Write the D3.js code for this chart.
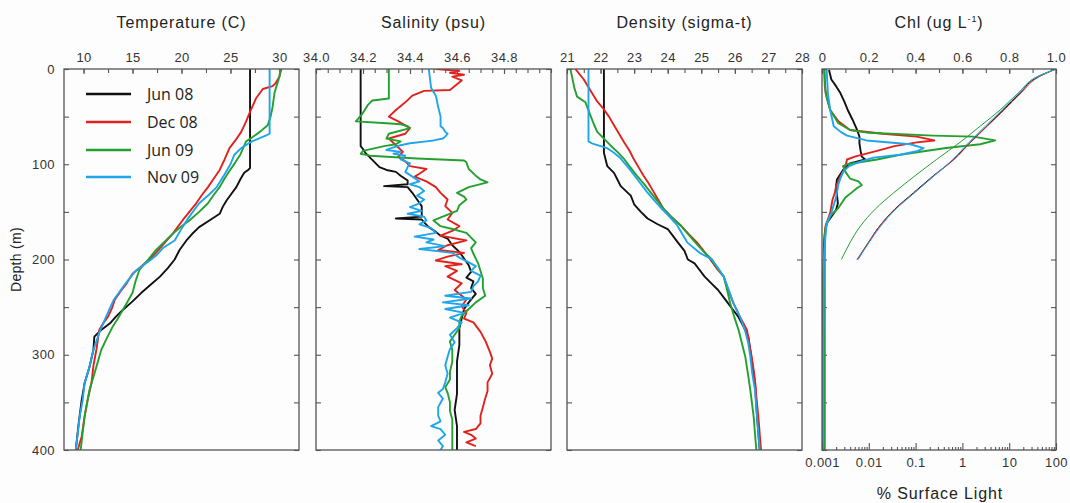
<!DOCTYPE html>
<html>
<head>
<meta charset="utf-8">
<title>CTD profiles</title>
<script src="https://cdn.jsdelivr.net/npm/d3@7"></script>
<style>
  body { margin: 0; background: #fdfdfd; }
  svg { font-family: "Liberation Sans", Arial, sans-serif; }
  .axis text { font-size: 13px; letter-spacing: 0.4px; fill: #333; }
  .axis line { stroke: #555; stroke-width: 1.1; }
  .axis path { display: none; }
  .frame { fill: none; stroke: #555; stroke-width: 1.3; }
  .title { font-size: 16px; letter-spacing: 0.9px; fill: #222; text-anchor: middle; }
</style>
</head>
<body>
<script>
// series names and colours
var seriesNames = ["Jun 08", "Dec 08", "Jun 09", "Nov 09"];
var seriesColors = ["#111111", "#e0221e", "#23a030", "#1fa5ea"];

// temperature (C) : [depth m, value]
var tempJun08 = [[0,27.0],[104,27.0],[106,26.8],[109,26.4],[116,26.0],[124,25.6],[131,25.1],[138,24.6],[145,24.2],[152,23.9],[158,23.0],[166,21.8],[173,21.1],[180,20.5],[190,19.8],[200,19.3],[209,18.6],[218,17.8],[226,16.9],[235,15.9],[244,15.0],[253,14.0],[260,13.3],[267,12.7],[274,11.8],[281,11.1],[295,11.0],[313,10.6],[330,10.1],[348,9.8],[372,9.5],[400,9.2]];
var tempDec08 = [[0,30.2],[8,30.0],[15,29.6],[18,29.3],[21,28.3],[31,27.6],[45,27.0],[55,26.6],[66,26.1],[75,25.5],[83,24.9],[95,24.4],[106,23.9],[115,23.3],[124,22.7],[132,22.1],[141,21.5],[150,20.8],[159,20.1],[166,19.6],[173,19.1],[180,18.5],[187,17.9],[194,17.3],[200,16.7],[208,15.8],[215,15.0],[225,14.4],[233,13.8],[242,13.2],[251,12.9],[260,12.5],[267,12.0],[274,11.6],[295,11.3],[312,11.0],[330,10.8],[348,10.4],[365,10.1],[386,9.8],[400,9.4]];
var tempJun09 = [[0,30.1],[8,30.0],[25,29.5],[40,29.3],[50,29.1],[59,28.8],[66,28.0],[72,27.2],[76,26.6],[90,26.0],[98,25.5],[107,24.9],[115,24.4],[124,23.9],[132,23.3],[141,22.7],[150,21.8],[159,20.8],[166,19.9],[173,19.1],[182,18.2],[190,17.4],[200,16.6],[211,15.7],[223,15.3],[235,15.0],[244,14.5],[253,14.0],[262,13.5],[270,13.0],[282,12.4],[295,11.8],[313,11.3],[337,10.6],[365,10.1],[400,9.7]];
var tempNov09 = [[0,29.0],[68,29.0],[70,28.6],[76,27.2],[83,26.1],[90,25.4],[100,25.0],[109,24.5],[124,23.6],[132,22.8],[141,21.8],[155,20.8],[166,20.1],[180,19.3],[188,18.1],[195,17.5],[200,16.9],[212,15.3],[225,14.3],[242,13.1],[260,12.3],[277,11.6],[295,11.0],[313,10.6],[330,10.1],[348,9.9],[365,9.6],[383,9.4],[400,9.2]];

// salinity (psu)
var salJun08 = [[0,34.19],[81,34.19],[84,34.20],[88,34.21],[93,34.23],[98,34.25],[103,34.27],[106,34.30],[108,34.34],[112,34.36],[117,34.39],[121,34.39],[123,34.29],[124,34.39],[130,34.41],[137,34.43],[144,34.45],[150,34.45],[155,34.45],[157,34.34],[158,34.45],[161,34.46],[166,34.48],[171,34.51],[175,34.53],[178,34.56],[185,34.58],[192,34.61],[199,34.63],[206,34.65],[213,34.66],[219,34.64],[223,34.67],[230,34.66],[236,34.68],[239,34.67],[245,34.65],[252,34.63],[262,34.62],[272,34.61],[290,34.61],[307,34.60],[325,34.60],[341,34.60],[358,34.59],[375,34.60],[390,34.60],[400,34.60]];
var salDec08 = [[0,34.51],[2,34.61],[4,34.57],[6,34.63],[8,34.58],[12,34.62],[16,34.60],[22,34.57],[23,34.46],[28,34.41],[35,34.38],[43,34.34],[50,34.31],[55,34.35],[62,34.40],[68,34.38],[73,34.31],[80,34.34],[87,34.37],[92,34.35],[97,34.38],[102,34.40],[105,34.47],[110,34.44],[113,34.42],[118,34.47],[124,34.51],[130,34.53],[137,34.56],[144,34.55],[151,34.58],[158,34.56],[165,34.61],[170,34.58],[175,34.53],[180,34.64],[185,34.56],[190,34.52],[193,34.63],[197,34.56],[201,34.51],[205,34.62],[207,34.55],[212,34.60],[218,34.56],[225,34.62],[232,34.59],[242,34.64],[249,34.62],[256,34.64],[262,34.63],[266,34.67],[276,34.70],[285,34.72],[297,34.74],[304,34.75],[311,34.74],[320,34.75],[329,34.73],[338,34.73],[346,34.72],[355,34.71],[364,34.70],[372,34.70],[378,34.68],[381,34.63],[384,34.66],[388,34.68],[392,34.64],[396,34.68]];
var salJun09 = [[0,34.31],[31,34.31],[33,34.24],[38,34.22],[46,34.20],[52,34.18],[55,34.17],[57,34.30],[58,34.36],[60,34.39],[62,34.40],[68,34.31],[73,34.30],[76,34.36],[79,34.34],[81,34.29],[86,34.20],[89,34.19],[91,34.23],[94,34.43],[96,34.63],[98,34.64],[105,34.65],[112,34.68],[116,34.70],[119,34.73],[124,34.65],[130,34.60],[134,34.63],[137,34.64],[143,34.61],[149,34.60],[154,34.55],[159,34.50],[165,34.53],[168,34.58],[172,34.64],[177,34.66],[182,34.68],[188,34.66],[194,34.67],[199,34.68],[204,34.69],[212,34.70],[220,34.71],[230,34.71],[238,34.72],[245,34.68],[252,34.65],[259,34.62],[265,34.61],[272,34.61],[279,34.59],[286,34.57],[295,34.58],[307,34.58],[318,34.57],[326,34.57],[334,34.55],[340,34.56],[350,34.57],[359,34.57],[368,34.58],[376,34.58],[388,34.58],[400,34.58]];
var salNov09 = [[0,34.48],[20,34.49],[28,34.51],[40,34.52],[50,34.53],[60,34.53],[62,34.54],[66,34.55],[68,34.56],[71,34.55],[73,34.54],[75,34.50],[76,34.47],[78,34.40],[80,34.36],[83,34.32],[85,34.30],[87,34.36],[89,34.33],[91,34.38],[95,34.36],[99,34.40],[103,34.39],[108,34.38],[113,34.41],[118,34.44],[121,34.40],[124,34.44],[128,34.46],[133,34.43],[137,34.46],[141,34.44],[145,34.40],[149,34.45],[152,34.39],[155,34.46],[159,34.47],[163,34.44],[167,34.49],[172,34.51],[176,34.42],[179,34.50],[182,34.47],[186,34.55],[189,34.44],[193,34.58],[198,34.61],[203,34.65],[207,34.68],[212,34.66],[217,34.70],[223,34.69],[228,34.67],[234,34.66],[238,34.55],[241,34.66],[245,34.54],[248,34.65],[252,34.55],[256,34.63],[261,34.57],[266,34.62],[272,34.60],[279,34.57],[287,34.59],[294,34.57],[302,34.56],[311,34.55],[320,34.56],[329,34.55],[336,34.54],[340,34.52],[346,34.54],[355,34.52],[364,34.52],[370,34.53],[375,34.49],[378,34.53],[384,34.55],[390,34.52],[396,34.54],[400,34.53]];

// density (sigma-t)
var denJun08 = [[0,22.1],[88,22.1],[95,22.15],[102,22.2],[109,22.4],[116,22.5],[123,22.6],[133,22.9],[142,23.0],[150,23.2],[157,23.4],[163,23.7],[168,24.0],[175,24.15],[182,24.3],[191,24.5],[200,24.6],[204,24.8],[211,24.95],[218,25.1],[225,25.3],[232,25.5],[239,25.65],[246,25.8],[253,25.95],[260,26.1],[270,26.25],[281,26.4],[293,26.45],[305,26.5],[330,26.6],[365,26.66],[400,26.74]];
var denDec08 = [[0,21.25],[11,21.5],[25,21.74],[34,21.9],[42,22.09],[50,22.25],[59,22.4],[68,22.55],[77,22.7],[85,22.85],[94,22.98],[103,23.13],[112,23.28],[120,23.43],[129,23.58],[138,23.73],[147,23.88],[155,24.1],[164,24.38],[173,24.62],[182,24.87],[191,25.07],[200,25.27],[209,25.45],[218,25.67],[232,25.8],[246,25.96],[260,26.15],[274,26.36],[288,26.43],[302,26.5],[316,26.56],[330,26.61],[348,26.65],[365,26.7],[383,26.74],[400,26.78]];
var denJun09 = [[0,21.1],[8,21.15],[20,21.22],[29,21.3],[35,21.55],[49,21.7],[58,21.8],[66,21.9],[73,22.1],[80,22.29],[87,22.5],[94,22.69],[103,22.88],[112,23.08],[120,23.28],[129,23.48],[138,23.68],[147,23.88],[155,24.1],[164,24.38],[173,24.6],[182,24.82],[191,25.05],[200,25.32],[204,25.37],[211,25.52],[218,25.67],[232,25.77],[246,25.86],[260,25.98],[274,26.11],[288,26.21],[302,26.31],[320,26.39],[337,26.46],[365,26.56],[383,26.6],[400,26.64]];
var denNov09 = [[0,21.64],[76,21.64],[78,21.74],[83,22.19],[88,22.4],[94,22.6],[104,22.84],[116,23.1],[129,23.38],[138,23.6],[147,23.83],[155,24.05],[164,24.28],[173,24.43],[182,24.58],[193,24.95],[200,25.32],[209,25.5],[218,25.67],[232,25.82],[246,25.96],[260,26.15],[274,26.3],[288,26.4],[302,26.46],[320,26.52],[337,26.6],[365,26.66],[383,26.7],[400,26.74]];

// chlorophyll (ug/L)
var chlJun08 = [[1,0.03],[11,0.04],[18,0.06],[25,0.078],[34,0.095],[43,0.11],[53,0.13],[64,0.15],[71,0.16],[78,0.16],[86,0.165],[92,0.17],[95,0.185],[99,0.12],[106,0.09],[116,0.064],[123,0.06],[130,0.063],[137,0.066],[141,0.068],[148,0.06],[155,0.04],[162,0.02],[172,0.012],[186,0.008],[220,0.005],[300,0.004],[400,0.004]];
var chlDec08 = [[1,0.01],[18,0.012],[30,0.02],[43,0.035],[55,0.07],[64,0.12],[68,0.26],[71,0.405],[75,0.48],[77,0.405],[81,0.31],[86,0.235],[92,0.14],[95,0.107],[102,0.1],[108,0.09],[113,0.078],[118,0.07],[123,0.06],[130,0.055],[137,0.045],[144,0.04],[151,0.035],[158,0.025],[165,0.015],[181,0.01],[200,0.008],[300,0.005],[400,0.005]];
var chlJun09 = [[1,0.01],[25,0.015],[43,0.035],[57,0.07],[64,0.12],[67,0.2],[70,0.476],[71,0.647],[75,0.74],[79,0.676],[83,0.53],[90,0.334],[95,0.235],[100,0.107],[102,0.09],[108,0.1],[115,0.12],[118,0.156],[122,0.17],[125,0.15],[129,0.13],[135,0.10],[146,0.07],[153,0.04],[160,0.025],[167,0.015],[180,0.012],[250,0.012],[400,0.012]];
var chlNov09 = [[1,0.02],[25,0.025],[43,0.035],[60,0.05],[66,0.08],[70,0.107],[75,0.19],[79,0.377],[83,0.434],[86,0.41],[90,0.334],[93,0.22],[97,0.167],[102,0.115],[108,0.09],[114,0.08],[121,0.07],[135,0.06],[151,0.04],[162,0.02],[175,0.015],[200,0.008],[300,0.005],[400,0.005]];

// % surface light
var lightJun08 = [[0,100],[8,42],[25,17],[43,7.5],[60,3.3],[77,1.46],[95,0.65],[112,0.24],[130,0.09],[147,0.036],[165,0.017],[182,0.0099],[200,0.0058]];
var lightDec08 = [[0,100],[8,44],[25,18],[43,7.8],[60,3.4],[77,1.5],[95,0.66],[112,0.25],[130,0.094],[147,0.037],[165,0.017],[182,0.0098],[200,0.0056]];
var lightJun09 = [[0,100],[8,40],[25,15.7],[43,6.4],[60,2.4],[77,0.89],[95,0.28],[112,0.098],[130,0.034],[147,0.0138],[165,0.0066],[182,0.004],[200,0.0026]];
var lightNov09 = [[0,100],[8,40],[25,16],[43,7.0],[60,3.1],[77,1.38],[95,0.62],[112,0.25],[130,0.095],[147,0.038],[165,0.018],[182,0.0102],[200,0.0059]];

// tick labels
var tempTicks = [10, 15, 20, 25, 30];
var salTicks = [34.0, 34.2, 34.4, 34.6, 34.8];
var denTicks = [21, 22, 23, 24, 25, 26, 27, 28];
var chlTicks = [0, 0.2, 0.4, 0.6, 0.8, 1.0];
var lightTicks = [0.001, 0.01, 0.1, 1, 10, 100];
var depthTicks = [0, 100, 200, 300, 400];

var width = 1070, height = 503;
var plotTop = 69, plotBottom = 450;

var svg = d3.select("body").append("svg")
  .attr("width", width).attr("height", height);

svg.append("rect").attr("width", width).attr("height", height).attr("fill", "#fdfdfd");

var yscale = d3.scaleLinear().domain([0, 400]).range([plotTop, plotBottom]);

var panels = [
  {id: "t", x0: 64, x1: 299, domain: [8, 32], ticks: tempTicks, minor: d3.range(10, 31, 2.5),
   fmt: d3.format("d"), title: "Temperature (C)", data: [tempJun08, tempDec08, tempJun09, tempNov09]},
  {id: "s", x0: 316, x1: 551, domain: [34.0, 35.0], ticks: salTicks, minor: d3.range(34.0, 35.0001, 0.05),
   fmt: d3.format(".1f"), title: "Salinity (psu)", data: [salJun08, salDec08, salJun09, salNov09]},
  {id: "d", x0: 567, x1: 802, domain: [21, 28], ticks: denTicks, minor: d3.range(21, 28.001, 0.5),
   fmt: d3.format("d"), title: "Density (sigma-t)", data: [denJun08, denDec08, denJun09, denNov09]},
  {id: "c", x0: 822, x1: 1056, domain: [0, 1.0], ticks: chlTicks, minor: d3.range(0, 1.0001, 0.1),
   fmt: function(d){ return d === 0 ? "0" : d3.format(".1f")(d); }, title: "Chl (ug L", data: [chlJun08, chlDec08, chlJun09, chlNov09]}
];

var line = function(xs){
  return d3.line()
    .x(function(d){ return xs(d[1]); })
    .y(function(d){ return yscale(d[0]); });
};

panels.forEach(function(p){
  var xs = d3.scaleLinear().domain(p.domain).range([p.x0, p.x1]);
  var g = svg.append("g");

  g.append("clipPath").attr("id", "clip-" + p.id)
    .append("rect").attr("x", p.x0).attr("y", plotTop).attr("width", p.x1 - p.x0).attr("height", plotBottom - plotTop);

  // minor ticks on top
  g.append("g").attr("class", "axis")
    .attr("transform", "translate(0," + plotTop + ")")
    .call(d3.axisTop(xs).tickValues(p.minor).tickSize(-4).tickFormat(""));
  // labelled ticks
  g.append("g").attr("class", "axis")
    .attr("transform", "translate(0," + plotTop + ")")
    .call(d3.axisTop(xs).tickValues(p.ticks).tickSize(-5).tickPadding(7).tickFormat(p.fmt));

  // depth ticks both sides, inward
  g.append("g").attr("class", "axis")
    .attr("transform", "translate(" + p.x0 + ",0)")
    .call(d3.axisLeft(yscale).tickValues(d3.range(0, 401, 50)).tickSize(-5).tickFormat(""));
  g.append("g").attr("class", "axis")
    .attr("transform", "translate(" + p.x1 + ",0)")
    .call(d3.axisRight(yscale).tickValues(d3.range(0, 401, 50)).tickSize(-5).tickFormat(""));

  var lines = g.append("g").attr("clip-path", "url(#clip-" + p.id + ")");
  p.data.forEach(function(ser, i){
    lines.append("path")
      .datum(ser)
      .attr("d", line(xs))
      .attr("fill", "none")
      .attr("stroke", seriesColors[i])
      .attr("stroke-width", 1.9)
      .attr("stroke-linejoin", "round");
  });

  if (p.id === "c") {
    // light profiles on log axis at bottom
    var ls = d3.scaleLog().domain([0.001, 100]).range([p.x0, p.x1]);
    [lightJun08, lightDec08, lightJun09, lightNov09].forEach(function(ser, i){
      lines.append("path")
        .datum(ser)
        .attr("d", d3.line().curve(d3.curveMonotoneY)
          .x(function(d){ return ls(d[1]); })
          .y(function(d){ return yscale(d[0]); }))
        .attr("fill", "none")
        .attr("stroke", seriesColors[i])
        .attr("stroke-width", 1);
    });
    var minorLog = [];
    [0.001, 0.01, 0.1, 1, 10].forEach(function(b){
      for (var k = 2; k <= 9; k++) minorLog.push(b * k);
    });
    g.append("g").attr("class", "axis")
      .attr("transform", "translate(0," + plotBottom + ")")
      .call(d3.axisBottom(ls).tickValues(minorLog).tickSize(-3).tickFormat(""));
    g.append("g").attr("class", "axis")
      .attr("transform", "translate(0," + plotBottom + ")")
      .call(d3.axisBottom(ls).tickValues(lightTicks).tickSize(-7).tickPadding(8)
        .tickFormat(function(d){ return d >= 1 ? d3.format("d")(d) : String(d); }));
    svg.append("text").attr("class", "title")
      .attr("x", 940).attr("y", 499)
      .text("% Surface Light");
  }

  g.append("rect").attr("class", "frame")
    .attr("x", p.x0).attr("y", plotTop).attr("width", p.x1 - p.x0).attr("height", plotBottom - plotTop);

  var t = svg.append("text").attr("class", "title")
    .attr("x", (p.x0 + p.x1) / 2).attr("y", 28)
    .text(p.title);
  if (p.id === "c") {
    t.append("tspan").attr("dy", -6).style("font-size", "9px").text("-1");
    t.append("tspan").attr("dy", 6).text(")");
  }
});

// depth labels on first panel
svg.append("g").attr("class", "axis")
  .attr("transform", "translate(64,0)")
  .call(d3.axisLeft(yscale).tickValues(depthTicks).tickSize(0).tickPadding(9).tickFormat(d3.format("d")));

svg.append("text").attr("class", "title")
  .attr("transform", "translate(21," + ((plotTop + plotBottom) / 2) + ") rotate(-90)")
  .style("font-size", "14px")
  .style("letter-spacing", "0.3px")
  .text("Depth (m)");

// legend
var legend = svg.append("g");
seriesNames.forEach(function(n, i){
  var ly = [94, 122, 150, 177][i];
  legend.append("line")
    .attr("x1", 86).attr("x2", 131).attr("y1", ly).attr("y2", ly)
    .attr("stroke", seriesColors[i]).attr("stroke-width", 2.5);
  legend.append("text")
    .attr("x", 147).attr("y", ly + 6)
    .style("font-family", "'Open Sans', sans-serif")
    .style("font-size", "16px").attr("fill", "#222")
    .text(n);
});
</script>
</body>
</html>
